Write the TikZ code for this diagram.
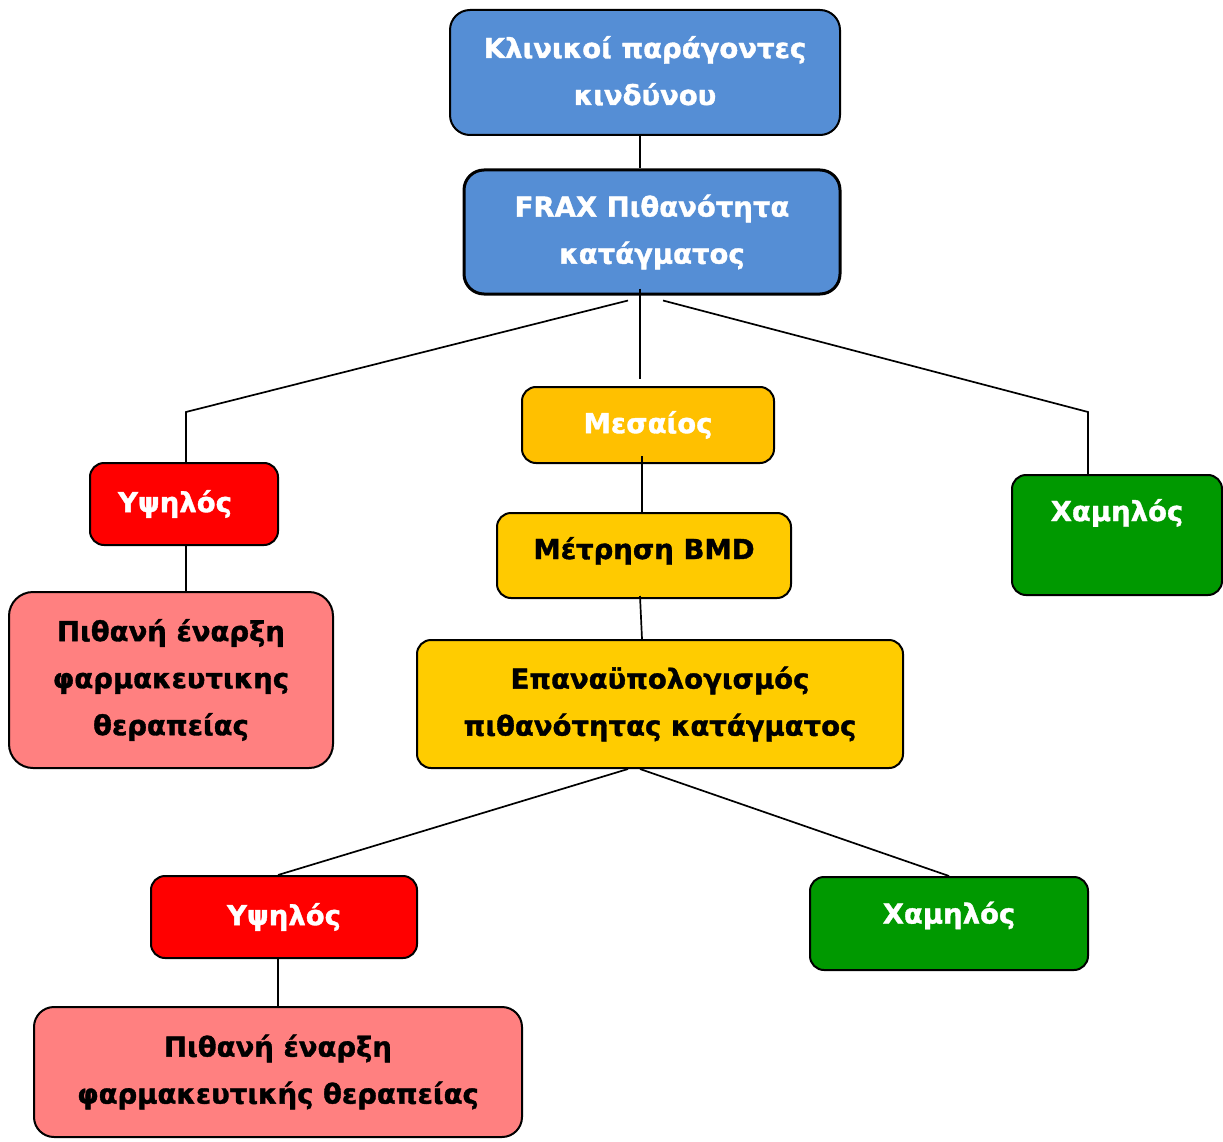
\documentclass[tikz,border=0pt]{standalone}
\usepackage{fontspec}
\setmainfont{DejaVu Sans}[BoldFeatures={FakeBold=1.3}]
\usepackage{tikz}
\usetikzlibrary{positioning, calc}

\definecolor{frblue}{RGB}{85,142,213}
\definecolor{frred}{RGB}{255,0,0}
\definecolor{frpink}{RGB}{255,128,128}
\definecolor{frgreen}{RGB}{0,153,0}
\definecolor{framber}{RGB}{255,192,0}
\definecolor{fryellow}{RGB}{255,204,0}

\begin{document}
\begin{tikzpicture}[
        x=1pt, y=-1pt,
        block/.style={draw, rectangle, rounded corners=14pt, line width=2pt, align=center, inner sep=0pt, font=\fontsize{27.5}{47}\selectfont\bfseries},
        blueblock/.style={block, fill=frblue, text=white, rounded corners=20pt},
        riskhigh/.style={block, fill=frred, text=white},
        risklow/.style={block, fill=frgreen, text=white},
        riskmid/.style={block, fill=framber, text=white},
        stepblock/.style={block, fill=fryellow},
        therapyblock/.style={block, fill=frpink, rounded corners=24pt},
        link/.style={draw, line width=1.7pt}
    ]
        \useasboundingbox (0,0) rectangle (1223,1142);

        % The Top Blocks
        \node[blueblock, text depth=4pt, minimum width=390pt, minimum height=125pt] (clinic) at (645,72.5) {Κλινικοί παράγοντες\\κινδύνου};
        \node[blueblock, line width=3pt, minimum width=376pt, minimum height=124pt] (frax) at (652,232) {FRAX Πιθανότητα\\κατάγματος};

        % First Risk Level
        \node[riskhigh, minimum width=188pt, minimum height=82pt] (high) at (184,504) {Υψηλός\hspace*{18pt}};
        \node[riskmid, minimum width=252pt, minimum height=76pt] (medium) at (648,425) {Μεσαίος};
        \node[risklow, text depth=50pt, minimum width=210pt, minimum height=120pt] (low) at (1117,535) {Χαμηλός};

        % Middle Path
        \node[stepblock, fill=fryellow!80!framber, text depth=15pt, minimum width=294pt, minimum height=85pt] (bmd) at (644,555.5) {Μέτρηση BMD};
        \node[stepblock, minimum width=486pt, minimum height=128pt] (recalc) at (660,704) {Επαναϋπολογισμός\\πιθανότητας κατάγματος};
        \node[therapyblock, minimum width=324pt, minimum height=176pt] (therapy) at (171,680) {Πιθανή έναρξη\\φαρμακευτικης\\θεραπείας};

        % Second Risk Level
        \node[riskhigh, minimum width=266pt, minimum height=82pt] (highb) at (284,917) {Υψηλός};
        \node[risklow, text depth=22pt, minimum width=278pt, minimum height=93pt] (lowb) at (949,923.5) {Χαμηλός};
        \node[therapyblock, rounded corners=20pt, minimum width=488pt, minimum height=130pt] (therapyb) at (278,1072) {Πιθανή έναρξη\\φαρμακευτικής θεραπείας};

        % Bends of the side branches
        \coordinate (lbend) at (186,412);
        \coordinate (rbend) at (1088,412);

        % Connectors
        \draw[link] ([xshift=-5pt]clinic.south) -- ([xshift=-5pt]clinic.south |- frax.north);
        \draw[link] ([xshift=-12pt, yshift=7pt]frax.south) -- ([xshift=-8pt, yshift=7pt]medium.north);
        \draw[link] ([xshift=-24pt, yshift=-5pt]frax.south) -- (lbend) -- (lbend |- high.north);
        \draw[link] ([xshift=11pt, yshift=-5pt]frax.south) -- (rbend) -- (rbend |- low.north);
        \draw[link] ([xshift=2pt]high.south) -- ([xshift=2pt]high.south |- therapy.north);
        \draw[link] ([xshift=-6pt, yshift=8pt]medium.south) -- ([xshift=-6pt]medium.south |- bmd.north);
        \draw[link] ([xshift=-4pt, yshift=3pt]bmd.south) -- ([xshift=-18pt]recalc.north);
        \draw[link] ([xshift=-32pt]recalc.south) -- ([xshift=-6pt]highb.north);
        \draw[link] ([xshift=-20pt]recalc.south) -- (lowb.north);
        \draw[link] ([xshift=-6pt]highb.south) -- (therapyb.north);

    \end{tikzpicture}
\end{document}
